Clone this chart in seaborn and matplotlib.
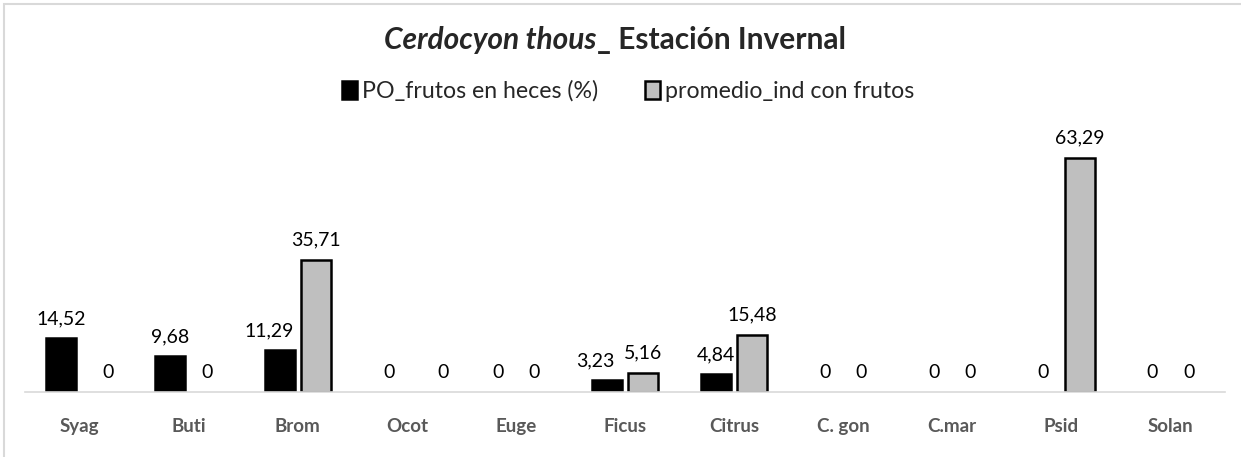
import matplotlib
matplotlib.use("Agg")
import matplotlib.pyplot as plt
import matplotlib.patches as mpatches
import pandas as pd
import seaborn as sns

# Data
especies = ["Syag", "Buti", "Brom", "Ocot", "Euge", "Ficus", "Citrus", "C. gon", "C.mar", "Psid", "Solan"]
po_frutos = [14.52, 9.68, 11.29, 0, 0, 3.23, 4.84, 0, 0, 0, 0]
promedio_ind = [0, 0, 35.71, 0, 0, 5.16, 15.48, 0, 0, 63.29, 0]
series = ["PO_frutos en heces (%)", "promedio_ind con frutos"]
colores = ["#000000", "#BFBFBF"]

# labels that were nudged sideways in the original (points)
shift_po = {"Brom": -7.2, "Ficus": -8}
shift_prom = {"Syag": 7.2, "Ocot": 13}

df = pd.DataFrame({
    "especie": especies * 2,
    "valor": po_frutos + promedio_ind,
    "serie": [series[0]] * len(especies) + [series[1]] * len(especies),
})

sns.set_style("white")
plt.rcParams["font.family"] = ["Lato", "DejaVu Sans"]

W, H = 1241, 457
fig = plt.figure(figsize=(W / 100, H / 100), dpi=100)
ax = fig.add_axes([25 / W, (H - 392) / H, 1200 / W, 259 / H])

sns.barplot(
    data=df, x="especie", y="valor", hue="serie",
    palette=colores, width=0.666, gap=0.175,
    edgecolor="black", linewidth=1.8, ax=ax,
)

# zero bars should not show an outline
for p in ax.patches:
    if p.get_height() == 0:
        p.set_linewidth(0)

# data labels with comma decimals
for cont, vals, shifts in zip(ax.containers, [po_frutos, promedio_ind], [shift_po, shift_prom]):
    labels = [f"{v:.2f}".replace(".", ",") if v else "0" for v in vals]
    anns = ax.bar_label(cont, labels=labels, padding=8, fontsize=14, color="#000000")
    for name, ann in zip(especies, anns):
        if name in shifts:
            ann.xyann = (shifts[name], ann.xyann[1])

ax.set_ylim(0, 70)
ax.set_xlabel("")
ax.set_ylabel("")
ax.set_yticks([])
for s in ["top", "left", "right"]:
    ax.spines[s].set_visible(False)
ax.spines["bottom"].set_color("#D9D9D9")
ax.spines["bottom"].set_linewidth(1.2)
ax.tick_params(axis="x", length=0, pad=19, labelsize=13.5)
for t in ax.get_xticklabels():
    t.set_fontweight("bold")
    t.set_color("#595959")

# legend at the top
handles, labels = ax.get_legend_handles_labels()
ax.get_legend().remove()
leg = fig.legend(
    handles, labels, loc="center", bbox_to_anchor=(628 / W, 1 - 91 / H),
    ncol=2, frameon=False, fontsize=16.7, handlelength=0.68, handleheight=0.8,
    handletextpad=0.2, columnspacing=2.0,
)
for h in leg.legend_handles:
    h.set_edgecolor("black")
    h.set_linewidth(1.8)

# title: italic species name + bold rest
t1 = fig.text(0, 1 - 40 / H, "Cerdocyon thous", fontsize=21.5, fontweight="bold",
              fontstyle="italic", va="center", ha="left")
t2 = fig.text(0, 1 - 40 / H, "_ Estación Invernal", fontsize=21.5, fontweight="bold",
              va="center", ha="left")
fig.canvas.draw()
r = fig.canvas.get_renderer()
w1 = t1.get_window_extent(r).width
w2 = t2.get_window_extent(r).width
x0 = 615 - (w1 + w2) / 2
t1.set_x(x0 / W)
t2.set_x((x0 + w1) / W)

# chart border
fig.patches.append(mpatches.Rectangle((4 / W, -0.05), 1.1, 1 - 4 / H + 0.05,
                                      transform=fig.transFigure, fill=False,
                                      edgecolor="#D9D9D9", linewidth=1.5))

fig.savefig("out.png", dpi=100, facecolor="white")
